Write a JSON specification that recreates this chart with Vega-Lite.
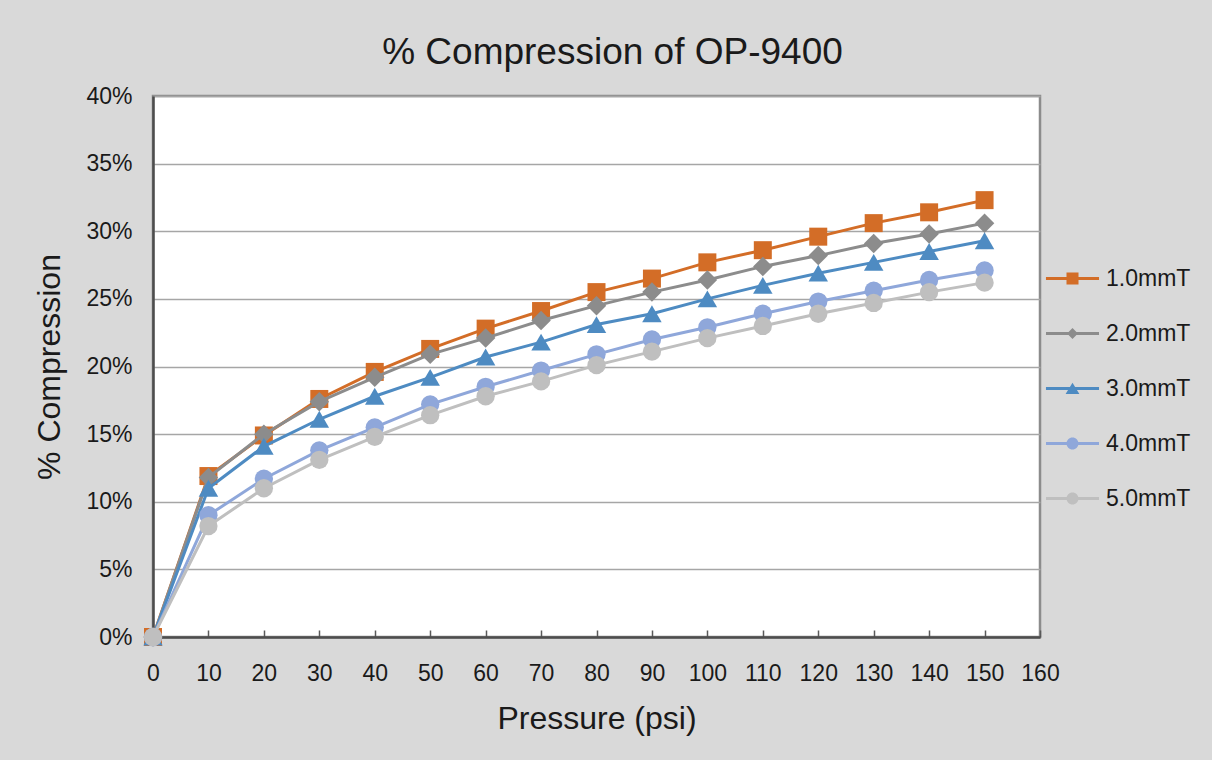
{
  "$schema": "https://vega.github.io/schema/vega-lite/v6.json",
  "width": 887,
  "height": 541,
  "autosize": {"type": "none"},
  "padding": {"left": 153, "top": 96, "right": 172, "bottom": 123},
  "background": "#d9d9d9",
  "title": {"text": "% Compression of OP-9400", "fontSize": 37, "fontWeight": "normal", "color": "#1a1a1a", "frame": "group", "anchor": "middle", "baseline": "alphabetic", "offset": -16, "dx": 16},
  "data": {"values": [
    {"p":0,"s":"1.0mmT","v":0},{"p":10,"s":"1.0mmT","v":0.119},{"p":20,"s":"1.0mmT","v":0.149},{"p":30,"s":"1.0mmT","v":0.176},{"p":40,"s":"1.0mmT","v":0.196},{"p":50,"s":"1.0mmT","v":0.213},{"p":60,"s":"1.0mmT","v":0.228},{"p":70,"s":"1.0mmT","v":0.241},{"p":80,"s":"1.0mmT","v":0.255},{"p":90,"s":"1.0mmT","v":0.265},{"p":100,"s":"1.0mmT","v":0.277},{"p":110,"s":"1.0mmT","v":0.286},{"p":120,"s":"1.0mmT","v":0.296},{"p":130,"s":"1.0mmT","v":0.306},{"p":140,"s":"1.0mmT","v":0.314},{"p":150,"s":"1.0mmT","v":0.323},
    {"p":0,"s":"2.0mmT","v":0},{"p":10,"s":"2.0mmT","v":0.118},{"p":20,"s":"2.0mmT","v":0.150},{"p":30,"s":"2.0mmT","v":0.174},{"p":40,"s":"2.0mmT","v":0.192},{"p":50,"s":"2.0mmT","v":0.209},{"p":60,"s":"2.0mmT","v":0.221},{"p":70,"s":"2.0mmT","v":0.234},{"p":80,"s":"2.0mmT","v":0.245},{"p":90,"s":"2.0mmT","v":0.255},{"p":100,"s":"2.0mmT","v":0.264},{"p":110,"s":"2.0mmT","v":0.274},{"p":120,"s":"2.0mmT","v":0.282},{"p":130,"s":"2.0mmT","v":0.291},{"p":140,"s":"2.0mmT","v":0.298},{"p":150,"s":"2.0mmT","v":0.306},
    {"p":0,"s":"3.0mmT","v":0},{"p":10,"s":"3.0mmT","v":0.110},{"p":20,"s":"3.0mmT","v":0.141},{"p":30,"s":"3.0mmT","v":0.161},{"p":40,"s":"3.0mmT","v":0.178},{"p":50,"s":"3.0mmT","v":0.192},{"p":60,"s":"3.0mmT","v":0.207},{"p":70,"s":"3.0mmT","v":0.218},{"p":80,"s":"3.0mmT","v":0.231},{"p":90,"s":"3.0mmT","v":0.239},{"p":100,"s":"3.0mmT","v":0.250},{"p":110,"s":"3.0mmT","v":0.260},{"p":120,"s":"3.0mmT","v":0.269},{"p":130,"s":"3.0mmT","v":0.277},{"p":140,"s":"3.0mmT","v":0.285},{"p":150,"s":"3.0mmT","v":0.293},
    {"p":0,"s":"4.0mmT","v":0},{"p":10,"s":"4.0mmT","v":0.090},{"p":20,"s":"4.0mmT","v":0.117},{"p":30,"s":"4.0mmT","v":0.138},{"p":40,"s":"4.0mmT","v":0.155},{"p":50,"s":"4.0mmT","v":0.172},{"p":60,"s":"4.0mmT","v":0.185},{"p":70,"s":"4.0mmT","v":0.197},{"p":80,"s":"4.0mmT","v":0.209},{"p":90,"s":"4.0mmT","v":0.220},{"p":100,"s":"4.0mmT","v":0.229},{"p":110,"s":"4.0mmT","v":0.239},{"p":120,"s":"4.0mmT","v":0.248},{"p":130,"s":"4.0mmT","v":0.256},{"p":140,"s":"4.0mmT","v":0.264},{"p":150,"s":"4.0mmT","v":0.271},
    {"p":0,"s":"5.0mmT","v":0},{"p":10,"s":"5.0mmT","v":0.082},{"p":20,"s":"5.0mmT","v":0.110},{"p":30,"s":"5.0mmT","v":0.131},{"p":40,"s":"5.0mmT","v":0.148},{"p":50,"s":"5.0mmT","v":0.164},{"p":60,"s":"5.0mmT","v":0.178},{"p":70,"s":"5.0mmT","v":0.189},{"p":80,"s":"5.0mmT","v":0.201},{"p":90,"s":"5.0mmT","v":0.211},{"p":100,"s":"5.0mmT","v":0.221},{"p":110,"s":"5.0mmT","v":0.230},{"p":120,"s":"5.0mmT","v":0.239},{"p":130,"s":"5.0mmT","v":0.247},{"p":140,"s":"5.0mmT","v":0.255},{"p":150,"s":"5.0mmT","v":0.262}
  ]},
  "encoding": {
    "x": {"field": "p", "type": "quantitative", "title": "Pressure (psi)",
      "scale": {"domain": [0, 160], "nice": false, "zero": false},
      "axis": {"values": [0,10,20,30,40,50,60,70,80,90,100,110,120,130,140,150,160], "labelFontSize": 23, "labelColor": "#1a1a1a", "labelPadding": 32, "labelFlush": false, "labelOverlap": false, "tickSize": -7, "tickColor": "#595959", "tickWidth": 1.5, "domainColor": "#4d4d4d", "domainWidth": 2.5, "grid": false, "titleFontSize": 32, "titleFontWeight": "normal", "titleColor": "#1a1a1a", "titlePadding": 18}},
    "y": {"field": "v", "type": "quantitative", "title": "% Compression",
      "scale": {"domain": [0, 0.4], "nice": false},
      "axis": {"values": [0,0.05,0.1,0.15,0.2,0.25,0.3,0.35,0.4], "format": ".0%", "labelFontSize": 23, "labelColor": "#1a1a1a", "labelPadding": 21, "labelFlush": false, "labelOverlap": false, "ticks": false, "domainColor": "#4d4d4d", "domainWidth": 2.5, "grid": true, "gridColor": "#a6a6a6", "gridWidth": 1.5, "titleFontSize": 32, "titleFontWeight": "normal", "titleColor": "#1a1a1a", "titlePadding": 19}}
  },
  "layer": [
    {"transform": [{"filter": "datum.s === '1.0mmT'"}], "mark": {"type": "line", "color": "#D36D27", "strokeWidth": 3, "point": {"shape": "square", "size": 324, "filled": true, "color": "#D36D27", "opacity": 1}}},
    {"transform": [{"filter": "datum.s === '2.0mmT'"}], "mark": {"type": "line", "color": "#8C8C8C", "strokeWidth": 3, "point": {"shape": "diamond", "size": 380, "filled": true, "color": "#8C8C8C", "opacity": 1}}},
    {"transform": [{"filter": "datum.s === '3.0mmT'"}], "mark": {"type": "line", "color": "#4E8BC2", "strokeWidth": 3, "point": {"shape": "triangle-up", "size": 380, "filled": true, "color": "#4E8BC2", "opacity": 1}}},
    {"transform": [{"filter": "datum.s === '4.0mmT'"}], "mark": {"type": "line", "color": "#8FA7DA", "strokeWidth": 3, "point": {"shape": "circle", "size": 335, "filled": true, "color": "#8FA7DA", "opacity": 1}}},
    {"transform": [{"filter": "datum.s === '5.0mmT'"}], "mark": {"type": "line", "color": "#BFBFBF", "strokeWidth": 3, "point": {"shape": "circle", "size": 335, "filled": true, "color": "#BFBFBF", "opacity": 1}}},
    {"mark": {"type": "point", "filled": true, "opacity": 0, "size": 144},
     "encoding": {
       "color": {"field": "s", "type": "nominal",
         "scale": {"domain": ["1.0mmT","2.0mmT","3.0mmT","4.0mmT","5.0mmT"], "range": ["#D36D27","#8C8C8C","#4E8BC2","#8FA7DA","#BFBFBF"]},
         "legend": {"orient": "none", "legendX": 908, "legendY": 171, "title": null, "symbolSize": 144, "symbolStrokeWidth": 0, "symbolOpacity": 1, "labelFontSize": 23, "labelColor": "#1a1a1a", "labelOffset": 22, "rowPadding": 31, "padding": 0}},
       "shape": {"field": "s", "type": "nominal",
         "scale": {"domain": ["1.0mmT","2.0mmT","3.0mmT","4.0mmT","5.0mmT"], "range": [
           "M-4.42,-0.25H4.42V0.25H-4.42ZM-1,-1H1V1H-1Z",
           "M-4.42,-0.25H4.42V0.25H-4.42ZM0,-0.9L0.9,0L0,0.9L-0.9,0Z",
           "M-4.42,-0.25H4.42V0.25H-4.42ZM0,-0.95L1.15,0.9L-1.15,0.9Z",
           "M-4.42,-0.25H4.42V0.25H-4.42ZM-1,0A1,1,0,1,1,1,0A1,1,0,1,1,-1,0Z",
           "M-4.42,-0.25H4.42V0.25H-4.42ZM-1,0A1,1,0,1,1,1,0A1,1,0,1,1,-1,0Z"]},
         "legend": {"orient": "none", "legendX": 908, "legendY": 171, "title": null, "symbolSize": 144, "symbolStrokeWidth": 0, "symbolOpacity": 1, "labelFontSize": 23, "labelColor": "#1a1a1a", "labelOffset": 22, "rowPadding": 31, "padding": 0}}
     }}
  ],
  "config": {
    "font": "Liberation Sans",
    "view": {"fill": "white", "stroke": "#8c8c8c", "strokeWidth": 2.5}
  }
}
